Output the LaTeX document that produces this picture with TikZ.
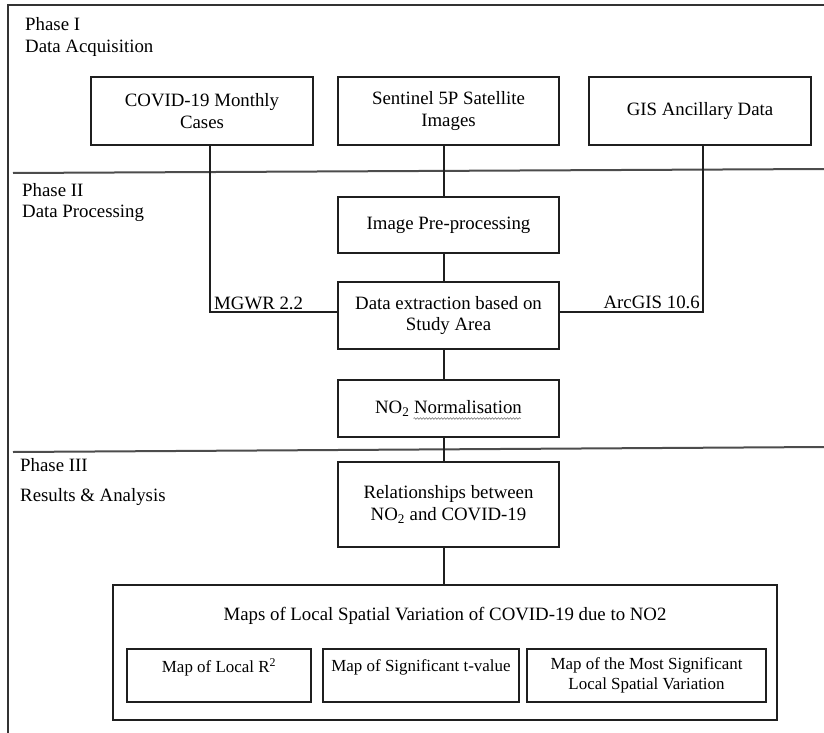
\documentclass[tikz,border=0pt]{standalone}
\usepackage{fontspec}
\setmainfont{Liberation Serif}
\usetikzlibrary{decorations.pathmorphing}
\begin{document}
\begin{tikzpicture}[x=1bp,y=-1bp,
  every node/.style={font=\fontsize{18.9}{22}\selectfont, inner sep=0pt},
  box/.style={draw=black!88, line width=1.3bp, align=center, minimum width=221bp},
  smallbox/.style={box, font=\fontsize{17}{20}\selectfont, minimum height=53bp},
  conn/.style={draw=black!88, line width=1.3bp},
  divider/.style={draw=black!70, line width=2bp},
  lbl/.style={align=left, anchor=west}]
\useasboundingbox (0,0) rectangle (824,733);

% frame
\draw[line width=1.5bp, draw=black!80] (8,733) -- (8,5) -- (824,5);
% phase dividers
\draw[divider] (13,173) -- (824,169);
\draw[divider] (13,452) -- (824,447);

% phase labels
\node[lbl] (p1) at (25,37) {Phase I\\Data Acquisition};
\node[lbl] (p2) at (22,202.5) {Phase II\\Data Processing};
\node[lbl] (p3) at (20,482) {Phase III\\[8bp]Results \& Analysis};

% boxes
\node[box, minimum width=222bp, minimum height=68bp] (covid) at (202,111) {COVID-19 Monthly\\Cases};
\node[box, minimum height=68bp] (sen) at (448.5,111) {Sentinel 5P Satellite\\Images};
\node[box, minimum width=222bp, minimum height=68bp] (gis) at (700,111) {GIS Ancillary Data};
\node[box, minimum height=56bp] (pre) at (448.5,225) {Image Pre-processing};
\node[box, minimum height=67bp] (dex) at (448.5,315.5) {Data extraction based on\\Study Area};
\node[box, minimum height=57bp] (no2) at (448.5,408.5) {NO\textsubscript{2} Normalisation};
\node[box, minimum height=85bp] (rel) at (448.5,504.5) {Relationships between\\NO\textsubscript{2} and COVID-19};

\node[box, minimum width=664bp, minimum height=135bp] (maps) at (445,652.5) {};
\node (title) at (445,616) {Maps of Local Spatial Variation of COVID-19 due to NO2};
\node[smallbox, minimum width=184bp] (m1) at (219,675.5) {Map of Local R\textsuperscript{2}\\\mbox{}};
\node[smallbox, minimum width=196bp] (m2) at (421,675.5) {Map of Significant t-value\\\mbox{}};
\node[smallbox, minimum width=239bp] (m3) at (646.5,675.5) {Map of the Most Significant\\Local Spatial Variation};

% spell-check squiggle
\draw[draw=black!55, line width=0.6bp, decorate, decoration={snake, amplitude=0.8bp, segment length=3bp}]
  ([xshift=-35bp,yshift=-10bp]no2.center) -- ([xshift=72bp,yshift=-10bp]no2.center);

% connectors
\coordinate (lx) at (444,0);
\draw[conn] ([xshift=8bp]covid.south) |- ([yshift=3.5bp]dex.west);
\draw[conn] ([xshift=3bp]gis.south) |- ([yshift=3.5bp]dex.east);
\draw[conn] (sen.south -| lx) -- (pre.north -| lx);
\draw[conn] (pre.south -| lx) -- (dex.north -| lx);
\draw[conn] (dex.south -| lx) -- (no2.north -| lx);
\draw[conn] (no2.south -| lx) -- (rel.north -| lx);
\draw[conn] (rel.south -| lx) -- (maps.north -| lx);

\node[anchor=base west] (mgwr) at (214,309) {MGWR 2.2};
\node[anchor=base east] (arc) at (700,308) {ArcGIS 10.6};
\end{tikzpicture}
\end{document}
